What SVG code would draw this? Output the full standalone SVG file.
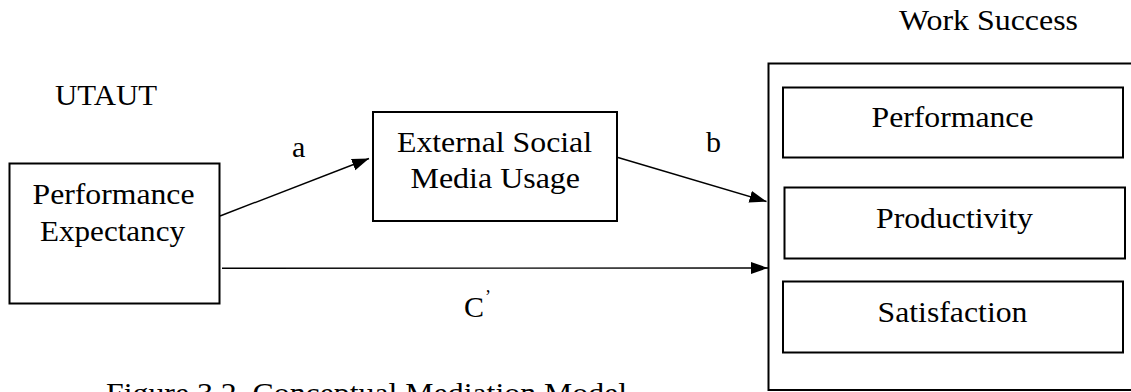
<svg xmlns="http://www.w3.org/2000/svg" width="1131" height="392" viewBox="0 0 1131 392">
<style>
  .box { fill: #ffffff; stroke: #000000; stroke-width: 2; }
  .t { font-family: "Liberation Serif", "Times New Roman", serif; font-size: 30px; fill: #000000; }
  .edge { stroke: #000000; stroke-width: 1.4; fill: none; }
</style>
<defs>
  <marker id="arrow" markerUnits="userSpaceOnUse" markerWidth="18" markerHeight="14" refX="17" refY="6" orient="auto">
    <path d="M0,0 L17,6 L0,12 Z" fill="#000000"/>
  </marker>
</defs>
<rect x="0" y="0" width="1131" height="392" fill="#ffffff"/>

<text class="t" x="55" y="105" textLength="102" lengthAdjust="spacingAndGlyphs">UTAUT</text>
<text class="t" x="899" y="30" textLength="179" lengthAdjust="spacingAndGlyphs">Work Success</text>

<g id="node-pe">
  <rect class="box" x="9.5" y="163.5" width="210" height="140"/>
  <text class="t" x="32.5" y="203.5" textLength="162" lengthAdjust="spacingAndGlyphs">Performance</text>
  <text class="t" x="40" y="240.5" textLength="145" lengthAdjust="spacingAndGlyphs">Expectancy</text>
</g>

<g id="node-esmu">
  <rect class="box" x="373" y="112" width="244" height="109"/>
  <text class="t" x="397" y="151.5" textLength="195" lengthAdjust="spacingAndGlyphs">External Social</text>
  <text class="t" x="410.5" y="188" textLength="169.5" lengthAdjust="spacingAndGlyphs">Media Usage</text>
</g>

<g id="node-work-success">
  <rect class="box" x="768.5" y="63.5" width="380" height="326.5"/>
  <g id="node-performance">
    <rect class="box" x="783" y="87.5" width="340" height="70"/>
    <text class="t" x="871.5" y="126.5" textLength="162" lengthAdjust="spacingAndGlyphs">Performance</text>
  </g>
  <g id="node-productivity">
    <rect class="box" x="784.5" y="187.5" width="340.5" height="71"/>
    <text class="t" x="876" y="227.5" textLength="157" lengthAdjust="spacingAndGlyphs">Productivity</text>
  </g>
  <g id="node-satisfaction">
    <rect class="box" x="783" y="281.5" width="340" height="71"/>
    <text class="t" x="877.5" y="321.5" textLength="150" lengthAdjust="spacingAndGlyphs">Satisfaction</text>
  </g>
</g>

<g id="connectors">
  <line class="edge" x1="220" y1="216" x2="369" y2="158.5" marker-end="url(#arrow)"/>
  <line class="edge" x1="618" y1="157.5" x2="766.5" y2="201.5" marker-end="url(#arrow)"/>
  <line class="edge" x1="222" y1="268.3" x2="768" y2="268" marker-end="url(#arrow)"/>
  <text class="t" x="292" y="156.5">a</text>
  <text class="t" x="706" y="151.5">b</text>
  <text class="t" x="464" y="316.5">C<tspan font-size="18" dx="1" dy="-14">’</tspan></text>
</g>

<text class="t" x="106" y="403" textLength="521" lengthAdjust="spacingAndGlyphs">Figure 3.2. Conceptual Mediation Model</text>
</svg>
